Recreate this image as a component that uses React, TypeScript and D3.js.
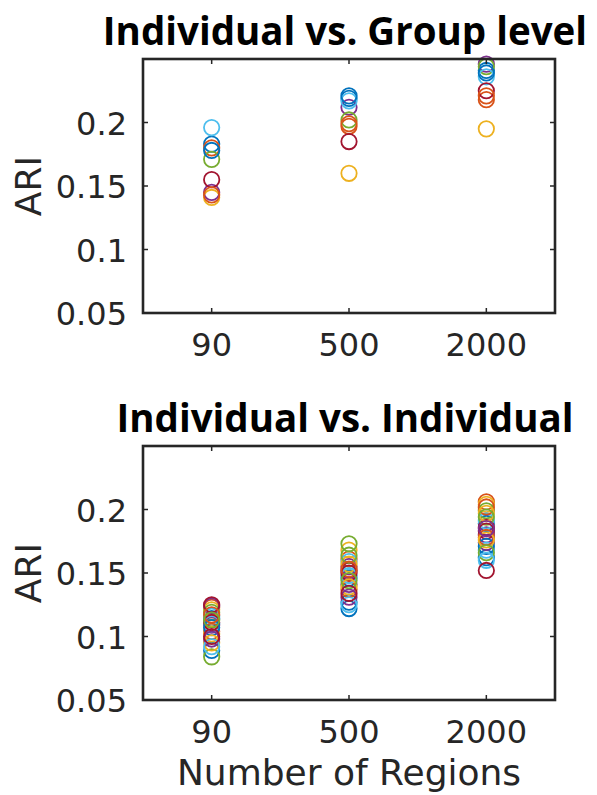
import React from "react";
import * as d3 from "d3";

// MATLAB default colour order, cycled by subject / pair index
const colorOrder = ["#0072BD", "#D95319", "#EDB120", "#7E2F8E", "#77AC30", "#4DBEEE", "#A2142F"];

const categories = ["90", "500", "2000"];
const yTicks = [0.05, 0.1, 0.15, 0.2];

// Individual vs. Group level, one value per subject
const groupLevel90 = [0.183, 0.18, 0.141, 0.145, 0.171, 0.196, 0.155, 0.178, 0.143];
const groupLevel500 = [0.219, 0.197, 0.16, 0.212, 0.202, 0.217, 0.185, 0.221, 0.199];
const groupLevel2000 = [0.241, 0.218, 0.195, 0.246, 0.244, 0.236, 0.225, 0.239, 0.221];

// Individual vs. Individual, one value per pair
const indiv90 = [
  0.114, 0.123, 0.121, 0.124, 0.119, 0.116, 0.125,
  0.089, 0.104, 0.102, 0.109, 0.084, 0.11, 0.111,
  0.107, 0.117, 0.095, 0.098, 0.113, 0.092, 0.1,
];
const indiv500 = [
  0.146, 0.161, 0.168, 0.155, 0.173, 0.159, 0.152,
  0.127, 0.137, 0.157, 0.141, 0.164, 0.148, 0.15,
  0.122, 0.153, 0.139, 0.131, 0.144, 0.125, 0.134,
];
const indiv2000 = [
  0.189, 0.206, 0.204, 0.18, 0.199, 0.191, 0.186,
  0.162, 0.202, 0.197, 0.174, 0.194, 0.168, 0.183,
  0.171, 0.178, 0.176, 0.185, 0.166, 0.16, 0.152,
];

const W = 597;
const H = 795;
const FONT = "'DejaVu Sans', sans-serif";
const TITLE_FONT = "'Open Sans', 'Noto Sans', sans-serif";
const AXIS = "#262626";

type PanelProps = {
  title: string;
  top: number;
  bottom: number;
  series: number[][];
  xLabel?: string;
};

function Panel({ title, top, bottom, series, xLabel }: PanelProps) {
  const left = 143;
  const right = 555;
  const x = d3.scaleLinear().domain([0.5, 3.5]).range([left, right]);
  const y = d3.scaleLinear().domain([0.05, 0.25]).range([bottom, top]);
  const tickLen = 5;

  return (
    <g>
      <text
        x={(left + right) / 2 - 4}
        y={top - 14}
        textAnchor="middle"
        fontFamily={TITLE_FONT}
        fontWeight="bold"
        fontSize={38.5}
        fill="#000"
      >
        {title}
      </text>

      {series.map((vals, ci) =>
        vals.map((v, i) => (
          <circle
            key={ci + "-" + i}
            cx={x(ci + 1)}
            cy={y(v)}
            r={7.7}
            fill="none"
            stroke={colorOrder[i % colorOrder.length]}
            strokeWidth={1.8}
          />
        ))
      )}

      <rect
        x={left}
        y={top}
        width={right - left}
        height={bottom - top}
        fill="none"
        stroke={AXIS}
        strokeWidth={2.6}
      />

      {yTicks.map((t) => (
        <g key={"y" + t}>
          <line x1={left} x2={left + tickLen} y1={y(t)} y2={y(t)} stroke={AXIS} strokeWidth={1.5} />
          <line x1={right} x2={right - tickLen} y1={y(t)} y2={y(t)} stroke={AXIS} strokeWidth={1.5} />
          <text
            x={left - 16}
            y={y(t) + 12}
            textAnchor="end"
            fontFamily={FONT}
            fontSize={32}
            fill={AXIS}
          >
            {String(t)}
          </text>
        </g>
      ))}

      {categories.map((c, ci) => (
        <g key={"x" + c}>
          <line x1={x(ci + 1)} x2={x(ci + 1)} y1={bottom} y2={bottom - tickLen} stroke={AXIS} strokeWidth={1.5} />
          <line x1={x(ci + 1)} x2={x(ci + 1)} y1={top} y2={top + tickLen} stroke={AXIS} strokeWidth={1.5} />
          <text
            x={x(ci + 1)}
            y={bottom + 43}
            textAnchor="middle"
            fontFamily={FONT}
            fontSize={32}
            fill={AXIS}
          >
            {c}
          </text>
        </g>
      ))}

      <text
        transform={`translate(${41},${(top + bottom) / 2}) rotate(-90)`}
        textAnchor="middle"
        fontFamily={FONT}
        fontSize={36}
        fill={AXIS}
      >
        ARI
      </text>

      {xLabel && (
        <text
          x={(left + right) / 2}
          y={bottom + 85}
          textAnchor="middle"
          fontFamily={FONT}
          fontSize={36}
          fill={AXIS}
        >
          {xLabel}
        </text>
      )}
    </g>
  );
}

export default function App() {
  return (
    <svg
      width={W}
      height={H}
      style={{ position: "absolute", left: 0, top: 0, background: "#fff" }}
    >
      <rect width={W} height={H} fill="#fff" />
      <Panel
        title="Individual vs. Group level"
        top={59}
        bottom={313}
        series={[groupLevel90, groupLevel500, groupLevel2000]}
      />
      <Panel
        title="Individual vs. Individual"
        top={446}
        bottom={700}
        series={[indiv90, indiv500, indiv2000]}
        xLabel="Number of Regions"
      />
    </svg>
  );
}
